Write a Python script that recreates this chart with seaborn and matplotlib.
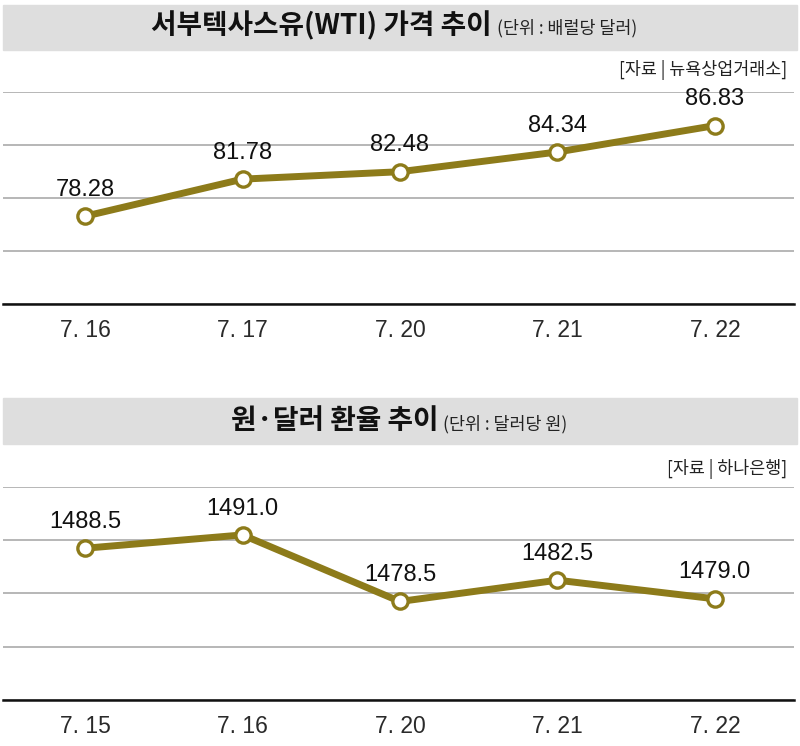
import pandas as pd
import matplotlib.pyplot as plt
import seaborn as sns
from matplotlib.patches import Rectangle

# 데이터
wti_dates = ['7. 16', '7. 17', '7. 20', '7. 21', '7. 22']
wti_values = [78.28, 81.78, 82.48, 84.34, 86.83]

krw_dates = ['7. 15', '7. 16', '7. 20', '7. 21', '7. 22']
krw_values = [1488.5, 1491.0, 1478.5, 1482.5, 1479.0]

sns.set_theme(style='white')
plt.rcParams['font.family'] = ['Noto Sans CJK KR', 'DejaVu Sans']

line_color = '#8D7B1A'
band_color = '#dedede'


def draw_panel(ax, dates, values, ylim, yticks, fmt):
    df = pd.DataFrame({'date': dates, 'value': values})
    sns.lineplot(data=df, x='date', y='value', ax=ax, color=line_color,
                 linewidth=5, marker='o', markersize=11,
                 markerfacecolor='white', markeredgecolor=line_color,
                 markeredgewidth=2.4, sort=False)
    for i, v in enumerate(values):
        ax.annotate(fmt.format(v), (i, v), xytext=(0, 19),
                    textcoords='offset points', ha='center', va='center',
                    fontsize=17, family=['Liberation Sans', 'DejaVu Sans'],
                    color='#111111')
    ax.set_xlim(-0.52, 4.5)
    ax.set_ylim(*ylim)
    ax.set_yticks(yticks)
    ax.set_yticklabels([])
    ax.grid(axis='y', color='#aaaaaa', linewidth=1.2)
    ax.grid(axis='x', visible=False)
    ax.set_axisbelow(True)
    for s in ['top', 'left', 'right']:
        ax.spines[s].set_visible(False)
    ax.spines['bottom'].set_color('#111111')
    ax.spines['bottom'].set_linewidth(1.8)
    ax.tick_params(axis='x', length=0, pad=11, labelsize=16.5, labelcolor='#2a2a2a')
    ax.tick_params(axis='y', length=0)
    for lab in ax.get_xticklabels():
        lab.set_family(['Liberation Sans', 'DejaVu Sans'])
    ax.set_xlabel('')
    ax.set_ylabel('')


fig = plt.figure(figsize=(8, 7.46), dpi=100)

# 제목 띠
fig.patches.append(Rectangle((0.004, 1 - 50 / 746), 0.992, 45 / 746,
                             transform=fig.transFigure, color=band_color, zorder=0))
fig.patches.append(Rectangle((0.004, 1 - 444 / 746), 0.992, 46 / 746,
                             transform=fig.transFigure, color=band_color, zorder=0))

fig.text(0.615, 0.965, '서부텍사스유(WTI) 가격 추이', ha='right', va='center',
         fontsize=20, fontweight='bold', color='#111111')
fig.text(0.621, 0.962, '(단위 : 배럴당 달러)', ha='left', va='center',
         fontsize=12.5, color='#222222')
fig.text(0.548, 0.435, '원·달러 환율 추이', ha='right', va='center',
         fontsize=20, fontweight='bold', color='#111111')
fig.text(0.554, 0.432, '(단위 : 달러당 원)', ha='left', va='center',
         fontsize=12.5, color='#222222')

fig.text(0.984, 0.906, '[자료 | 뉴욕상업거래소]', ha='right', va='center',
         fontsize=12.5, color='#222222')
fig.text(0.984, 0.371, '[자료 | 하나은행]', ha='right', va='center',
         fontsize=12.5, color='#222222')

ax1 = fig.add_axes([0.004, 1 - 304 / 746, 0.988, 212 / 746])
draw_panel(ax1, wti_dates, wti_values, (70, 90), [70, 75, 80, 85, 90], '{:.2f}')

ax2 = fig.add_axes([0.004, 1 - 700 / 746, 0.988, 213 / 746])
draw_panel(ax2, krw_dates, krw_values, (1460, 1500), [1460, 1470, 1480, 1490, 1500], '{:.1f}')

fig.savefig('out.png', dpi=100)
